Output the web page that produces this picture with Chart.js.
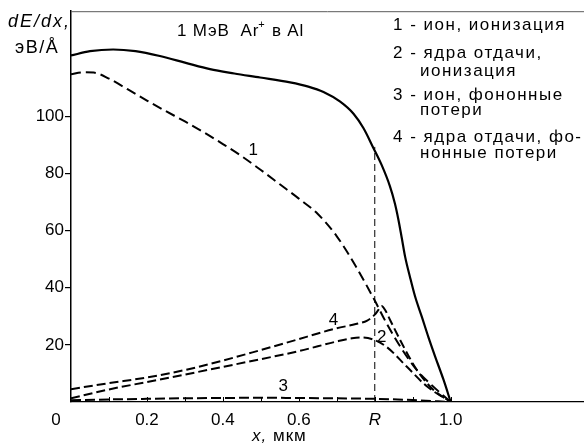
<!DOCTYPE html>
<html><head><meta charset="utf-8">
<script src="https://cdn.jsdelivr.net/npm/chart.js@4/dist/chart.umd.min.js"></script>
<style>html,body{margin:0;padding:0;background:#fff;}#wrap{width:584px;height:446px;}</style>
</head><body><div id="wrap"><canvas id="c" width="584" height="446"></canvas></div>
<script>
// ---- data ----
const totalX = [0, 0.05, 0.111, 0.17, 0.234, 0.3, 0.366, 0.43, 0.498, 0.577, 0.625, 0.665, 0.708, 0.744, 0.77, 0.795, 0.818, 0.84, 0.853, 0.862, 0.871, 0.88, 0.893, 0.906, 0.924, 0.941, 0.959, 0.981, 1.0];
const totalY = [121.3, 122.8, 123.4, 122.8, 121.1, 118.8, 116.5, 115.0, 113.6, 111.9, 110.4, 108.5, 105.2, 100.9, 95.9, 89.3, 83.0, 75.5, 69.5, 64.0, 57.5, 50.8, 43.6, 37.0, 29.8, 22.8, 15.9, 7.8, 0];
const ion1X = [0, 0.03, 0.06, 0.1, 0.15, 0.2, 0.25, 0.3, 0.35, 0.4, 0.45, 0.5, 0.55, 0.6, 0.65, 0.7, 0.75, 0.8, 0.83, 0.87, 0.91, 0.955, 1.0];
const ion1Y = [114.7, 115.4, 115.3, 113.2, 109.4, 105.5, 101.8, 98.2, 94.4, 90.3, 86.0, 81.2, 76.2, 71.2, 65.8, 58.0, 47.5, 35.5, 27.8, 18.8, 11.3, 5.3, 0];
const rec2X = [0, 0.1, 0.2, 0.3, 0.4, 0.5, 0.6, 0.65, 0.7, 0.74, 0.766, 0.795, 0.831, 0.884, 0.937, 1.0];
const rec2Y = [1.3, 4.4, 7.0, 9.6, 12.3, 15.0, 17.8, 19.5, 21.2, 22.3, 22.6, 21.9, 19.3, 12.4, 5.5, 0];
const phon3X = [0, 0.1, 0.2, 0.3, 0.4, 0.5, 0.6, 0.7, 0.8, 0.9, 1.0];
const phon3Y = [0.6, 0.9, 1.1, 1.3, 1.4, 1.5, 1.4, 1.3, 1.1, 0.7, 0];
const rec4X = [0, 0.1, 0.2, 0.3, 0.4, 0.5, 0.6, 0.65, 0.7, 0.75, 0.78, 0.8, 0.81, 0.818, 0.828, 0.84, 0.875, 0.91, 0.954, 1.0];
const rec4Y = [4.5, 6.6, 8.6, 11.2, 14.5, 18.2, 22.0, 24.0, 25.8, 27.3, 28.5, 30.6, 32.3, 33.6, 32.0, 28.8, 19.6, 11.4, 4.3, 0];
const rangeX = [0.8, 0.8];
const rangeY = [0, 89.3];

const xTickValues = [0.2, 0.4, 0.6, 0.8, 1.0];
const xTickLabels = ['0.2', '0.4', '0.6', 'R', '1.0'];
const xMinorTicks = [0.1, 0.2, 0.3, 0.4, 0.5, 0.6, 0.7, 0.8, 0.9, 1.0];
const yTickValues = [20, 40, 60, 80, 100];

const curveLabels = ['1', '2', '3', '4'];
const curveLabelX = [0.48, 0.818, 0.559, 0.691];
const curveLabelY = [88.2, 22.6, 5.5, 28.6];

const legendLines = [
  ['1 - ион, ионизация', 0],
  ['2 - ядра отдачи,', 0],
  ['ионизация', 1],
  ['3 - ион, фононные', 0],
  ['потери', 1],
  ['4 - ядра отдачи, фо-', 0],
  ['нонные потери', 1]
];

const FONT = '"Liberation Sans", Arial, sans-serif';
const pts = (xs, ys) => xs.map((x, i) => ({x, y: ys[i]}));

const overlay = {
  id: 'overlay',
  afterDraw(chart) {
    const {ctx, chartArea: a, scales: {x, y}} = chart;
    ctx.save();
    // top frame line
    ctx.strokeStyle = '#5a5a5a'; ctx.lineWidth = 1;
    ctx.beginPath(); ctx.moveTo(a.left, a.top + 0.5); ctx.lineTo(a.right, a.top + 0.5); ctx.stroke();
    // inward minor ticks on x axis
    ctx.strokeStyle = '#000'; ctx.lineWidth = 1;
    xMinorTicks.forEach(v => {
      const px = Math.round(x.getPixelForValue(v)) + 0.5;
      ctx.beginPath(); ctx.moveTo(px, a.bottom); ctx.lineTo(px, a.bottom - 5); ctx.stroke();
    });
    ctx.fillStyle = '#000';
    // origin label
    ctx.font = '17px ' + FONT; ctx.textAlign = 'center'; ctx.textBaseline = 'middle';
    ctx.fillText('0', x.getPixelForValue(0) - 15, a.bottom + 18);
    // curve labels
    curveLabels.forEach((t, i) => {
      ctx.fillText(t, x.getPixelForValue(curveLabelX[i]), y.getPixelForValue(curveLabelY[i]));
    });
    ctx.textAlign = 'left'; ctx.textBaseline = 'alphabetic';
    // y axis title
    ctx.letterSpacing = '2px';
    ctx.font = 'italic 18px ' + FONT;
    ctx.fillText('dE/dx,', 8, 27);
    ctx.letterSpacing = '1.5px';
    ctx.font = '18px ' + FONT;
    ctx.fillText('эВ/Å', 15, 53);
    // x axis title
    ctx.letterSpacing = '1px';
    ctx.font = 'italic 17px ' + FONT;
    ctx.fillText('x,', 252, 441);
    let w = ctx.measureText('x,').width;
    ctx.font = '17px ' + FONT;
    ctx.fillText(' мкм', 252 + w, 441);
    // title
    ctx.letterSpacing = '0.8px';
    ctx.font = '17px ' + FONT;
    let tx = 177;
    ctx.fillText('1 МэВ  Ar', tx, 36); tx += ctx.measureText('1 МэВ  Ar').width;
    ctx.font = '11px ' + FONT;
    ctx.fillText('+', tx - 1, 28); tx += ctx.measureText('+').width;
    ctx.font = '17px ' + FONT;
    ctx.fillText(' в Al', tx, 36);
    // legend text
    ctx.letterSpacing = '1.5px';
    ctx.font = '17px ' + FONT;
    const base = [29.5, 58.3, 76, 100, 115, 141.7, 158.3];
    legendLines.forEach((l, i) => {
      ctx.fillText(l[0], l[1] ? 420 : 393, base[i]);
    });
    ctx.restore();
  }
};

const lineDs = (data, dash, width) => ({
  data, borderColor: '#000', borderWidth: width, borderDash: dash,
  pointRadius: 0, fill: false, cubicInterpolationMode: 'monotone'
});

new Chart(document.getElementById('c'), {
  type: 'line',
  data: {
    datasets: [
      lineDs(pts(totalX, totalY), [], 2.2),
      lineDs(pts(ion1X, ion1Y), [10, 5], 2),
      lineDs(pts(rec2X, rec2Y), [9, 4], 2),
      lineDs(pts(phon3X, phon3Y), [10, 4], 2),
      lineDs(pts(rec4X, rec4Y), [9, 4], 2),
      Object.assign(lineDs(pts(rangeX, rangeY), [7, 4], 1), {cubicInterpolationMode: 'default', tension: 0})
    ]
  },
  options: {
    responsive: false,
    animation: false,
    devicePixelRatio: 1,
    layout: {padding: {top: 8, left: 0, right: 0, bottom: 0}},
    plugins: {legend: {display: false}, tooltip: {enabled: false}},
    scales: {
      x: {
        type: 'linear', min: 0, max: 1.351,
        afterBuildTicks: s => { s.ticks = xTickValues.map(v => ({value: v})); },
        afterFit: s => { s.height = 44; },
        grid: {display: false, drawTicks: false},
        border: {display: true, color: '#000', width: 1.3},
        ticks: {
          autoSkip: false, maxRotation: 0, padding: 8, color: '#000',
          callback: (v, i) => xTickLabels[i],
          font: ctx => ({family: FONT, size: 17, style: (ctx.tick && ctx.tick.value === 0.8) ? 'italic' : 'normal'})
        }
      },
      y: {
        type: 'linear', min: 0, max: 136.8,
        afterBuildTicks: s => { s.ticks = yTickValues.map(v => ({value: v})); },
        afterFit: s => { s.width = 71; },
        grid: {display: true, drawOnChartArea: false, drawTicks: true, tickLength: 6, color: '#000', lineWidth: 1.2},
        border: {display: true, color: '#000', width: 1.5},
        ticks: {padding: 1, color: '#000', font: {family: FONT, size: 17}}
      }
    }
  },
  plugins: [overlay]
});
</script>
</body></html>
